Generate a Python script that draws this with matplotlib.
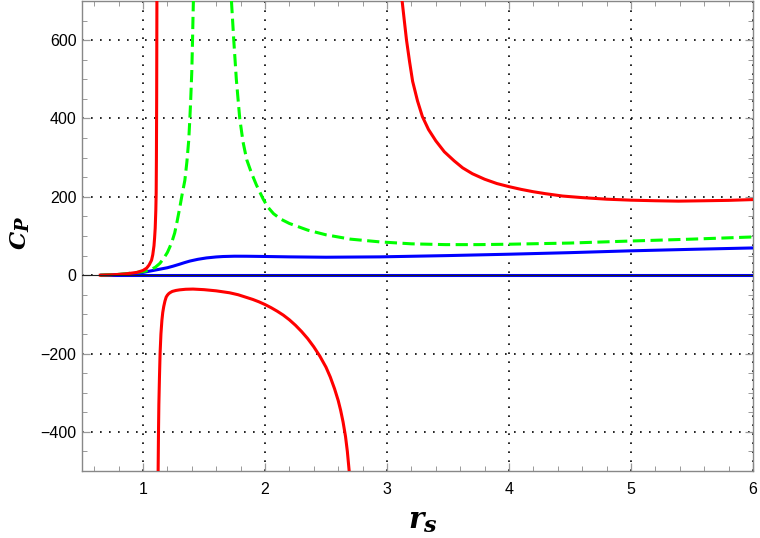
import matplotlib
matplotlib.use("Agg")
import matplotlib.pyplot as plt
from matplotlib.ticker import MultipleLocator

# ---- data ----
red1_x = [0.65, 0.75, 0.85, 0.95, 1.0, 1.03, 1.05, 1.07, 1.08, 1.09, 1.095, 1.10, 1.105, 1.108,
          1.11, 1.112, 1.114]
red1_y = [0, 1, 3, 7, 12, 18, 26, 38, 52, 75, 95, 120, 165, 210, 300, 450, 700]

red2_x = [1.124, 1.127, 1.13, 1.135, 1.14, 1.147, 1.155, 1.162, 1.17, 1.18, 1.19, 1.2, 1.21,
          1.22, 1.24, 1.27, 1.3, 1.35, 1.41, 1.5, 1.6, 1.71, 1.78, 1.85, 1.9, 1.95, 2.0, 2.05,
          2.1, 2.15, 2.2, 2.25, 2.3, 2.35, 2.4, 2.45, 2.5, 2.535, 2.57, 2.6, 2.62, 2.64, 2.66,
          2.675, 2.69]
red2_y = [-500, -400, -330, -260, -200, -150, -115, -95, -80, -66, -56, -51, -47.5,
          -45, -41.5, -39, -37.5, -36, -35.5, -37, -40, -45, -50, -57, -62, -68, -75, -83,
          -92, -102, -114, -128, -144, -162, -183, -207, -235, -260, -290, -320, -345, -375, -412,
          -450, -500]

red3_x = [3.124, 3.14, 3.16, 3.185, 3.21, 3.25, 3.29, 3.34, 3.40, 3.47, 3.55, 3.62, 3.7, 3.8,
          3.9, 4.0, 4.1, 4.2, 4.3, 4.44, 4.6, 4.8, 5.0, 5.2, 5.39, 5.6, 5.8, 6.0]
red3_y = [700, 655, 600, 545, 495, 445, 405, 372, 343, 315, 292, 274, 259, 245,
          234, 226, 219, 213, 208, 202, 198, 194, 191.5, 190, 189, 190, 191, 193]

green1_x = [0.65, 0.8, 0.9, 1.0, 1.056, 1.1, 1.138, 1.17, 1.2, 1.22, 1.24, 1.26, 1.28, 1.30,
            1.32, 1.343, 1.36, 1.375, 1.384, 1.39, 1.40, 1.406, 1.41, 1.413]
green1_y = [0, 2, 5, 9, 13, 20, 30, 43, 58, 72, 88, 108, 138, 170,
            205, 242, 290, 345, 400, 440, 520, 600, 660, 700]

green2_x = [1.725, 1.744, 1.765, 1.793, 1.82, 1.85, 1.89, 1.93, 1.984, 2.02, 2.07, 2.13, 2.2,
            2.35, 2.5, 2.7, 2.94, 3.2, 3.48, 3.75, 4.0, 4.5, 4.98, 5.5, 6.0]
green2_y = [700, 600, 500, 400, 340, 295, 260, 230, 195, 175, 157, 143, 132,
            115, 103, 92, 85, 80, 78, 78, 79, 82, 87, 92, 97.6]

blue1_x = [0.66, 0.8, 0.9, 1.0, 1.1, 1.2, 1.247, 1.3, 1.34, 1.384, 1.45, 1.52, 1.6, 1.656,
           1.75, 1.85, 2.0, 2.2, 2.5, 2.94, 3.5, 4.0, 4.5, 4.98, 5.5, 6.0]
blue1_y = [0, 1.5, 3.5, 7, 13, 19, 23, 28, 32, 36, 40.5, 44, 46.5, 47.6,
           48.4, 48.3, 47.7, 46.7, 45.8, 46.7, 50, 53.5, 57.5, 62, 66, 69.5]

blue0_x = [0.66, 6.0]
blue0_y = [0, 0]

x_ticks = [1, 2, 3, 4, 5, 6]
y_ticks = [-400, -200, 0, 200, 400, 600]

# ---- figure ----
W, H = 760, 538
fig = plt.figure(figsize=(W / 100, H / 100), dpi=100)
ax = fig.add_axes([82 / W, 67 / H, 671 / W, 470 / H])

lw = 2.2
ax.plot(blue0_x, blue0_y, color='#0000FF', lw=lw, zorder=3)
ax.plot(blue1_x, blue1_y, color='#0000FF', lw=lw, zorder=3)
for xs, ys in [(green1_x, green1_y), (green2_x, green2_y)]:
    ax.plot(xs, ys, color='#00FF00', lw=lw, linestyle=(0, (4.0, 1.8)), zorder=4)
for xs, ys in [(red1_x, red1_y), (red2_x, red2_y), (red3_x, red3_y)]:
    ax.plot(xs, ys, color='#FF0000', lw=lw, zorder=5)

# axis line at y = 0
ax.axhline(0, color='#222222', lw=0.8, zorder=6)

ax.set_xlim(0.5, 6.0)
ax.set_ylim(-500, 700)
ax.set_xticks(x_ticks)
ax.set_yticks(y_ticks)
ax.set_xticklabels([str(t) for t in x_ticks])
ax.set_yticklabels([str(t).replace('-', '\u2212') for t in y_ticks])
ax.xaxis.set_minor_locator(MultipleLocator(0.2))
ax.yaxis.set_minor_locator(MultipleLocator(50))

ax.grid(True, which='major', color='black', linestyle=(0, (1, 4.4)), lw=1.2, zorder=1)

for s in ax.spines.values():
    s.set_color('#888888')
    s.set_linewidth(1.0)

ax.tick_params(which='both', direction='in', top=True, right=True, color='#999999',
               labelsize=11.5, labelcolor='black')
ax.tick_params(which='major', length=6, width=0.9)
ax.tick_params(which='minor', length=3.5, width=0.7)
ax.tick_params(axis='x', which='major', pad=8)
ax.tick_params(axis='y', which='major', pad=4)
for lab in ax.get_xticklabels() + ax.get_yticklabels():
    lab.set_fontfamily('Liberation Sans')

# axis labels: bold italic slab-serif with subscripts
lab_font = dict(family='DejaVu Serif', weight='bold', style='italic', color='black')
fig.text(424 / W, (H - 528) / H, 'r', ha='right', va='baseline', fontsize=21, **lab_font)
fig.text(423 / W, (H - 532) / H, 's', ha='left', va='baseline', fontsize=16, **lab_font)

fig.text(26 / W, (H - 249) / H, 'C', ha='left', va='baseline', rotation=90,
         rotation_mode='anchor', fontsize=16.5, **lab_font)
fig.text(29 / W, (H - 232) / H, 'P', ha='left', va='baseline', rotation=90,
         rotation_mode='anchor', fontsize=13, **lab_font)

fig.savefig('out.png', dpi=100)
